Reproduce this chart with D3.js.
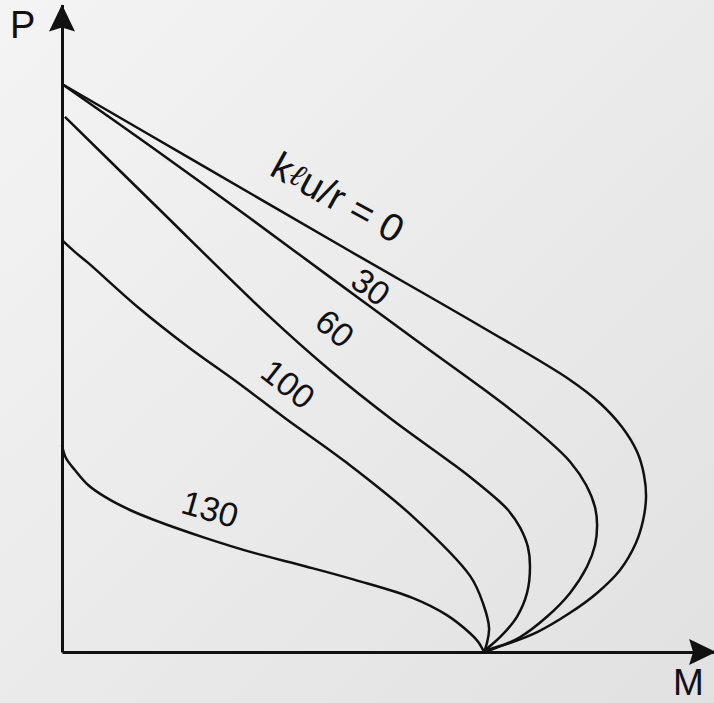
<!DOCTYPE html>
<html>
<head>
<meta charset="utf-8">
<script src="https://cdn.jsdelivr.net/npm/d3@7"></script>
<style>
  html, body { margin: 0; padding: 0; }
  body { width: 714px; height: 703px; overflow: hidden; }
</style>
</head>
<body>
<div id="chart"></div>
<script>
// curve labels (kl u / r)
const series = ["0", "30", "60", "100", "130"];

// values, M and P in arbitrary units (meeting point M = 100)
const m0 = [0, 32.7, 68.2, 99.1, 120.4, 127.5, 132.7, 136.3, 137.9, 138.4, 137.7, 136.0, 132.2, 126.8, 120.4, 112.6, 106.2, 101.4, 100];
const p0 = [100, 85.9, 70.6, 57.4, 47.9, 43.8, 39.6, 35.2, 31.2, 27.3, 23.2, 19.2, 14.4, 10.4, 6.9, 3.5, 1.6, 0.5, 0];

const m30 = [0, 20.9, 44.5, 63.5, 84.8, 99.1, 107.3, 114.5, 120.4, 124.2, 126.3, 126.8, 126.3, 124.4, 120.4, 114.9, 108.5, 102.1, 100];
const p30 = [100, 89.1, 76.4, 66.0, 54.4, 46.7, 42.1, 37.7, 33.5, 29.4, 25.5, 22.4, 18.8, 15.0, 10.4, 6.2, 2.6, 0.5, 0];

const m60 = [0.7, 22.0, 48.8, 63.5, 78.4, 91.9, 96.7, 103.8, 105.7, 108.5, 110.4, 110.9, 110.2, 107.8, 103.8, 100.9, 100];
const p60 = [94.2, 78.7, 59.3, 49.6, 40.8, 33.5, 30.8, 26.4, 25.0, 22.0, 18.5, 15.0, 10.4, 6.2, 2.6, 0.7, 0];

const m100 = [0, 3.1, 6.2, 18.0, 29.9, 41.7, 52.8, 67.5, 83.2, 96.7, 99.8, 101.2, 100.7, 100];
const p100 = [72.5, 70.4, 68.5, 60.7, 53.7, 47.4, 41.2, 33.3, 23.8, 13.4, 8.5, 4.2, 1.6, 0];

const m130 = [0, 0.9, 3.1, 6.2, 10.2, 16.1, 22.0, 33.9, 45.7, 57.6, 69.4, 83.2, 91.2, 96.7, 98.6, 100];
const p130 = [36.4, 34.2, 32.0, 29.4, 27.3, 25.0, 23.2, 20.1, 17.4, 15.1, 12.7, 9.5, 6.5, 3.3, 1.8, 0];

const mValues = [m0, m30, m60, m100, m130];
const pValues = [p0, p30, p60, p100, p130];

// where each curve label sits (M, P) and its angle
const labelM = [65.4, 73.2, 64.7, 53.6, 35.1];
const labelP = [80.1, 64.3, 57.0, 47.2, 25.2];
const labelAngle = [29, 36, 40, 38, 16];

const W = 714, H = 703;

const svg = d3.select("#chart").append("svg")
    .attr("width", W)
    .attr("height", H);

// background
const defs = svg.append("defs");
const grad = defs.append("linearGradient")
    .attr("id", "bg")
    .attr("x1", 0).attr("y1", 0).attr("x2", 1).attr("y2", 1);
grad.append("stop").attr("offset", 0).attr("stop-color", "#f4f4f4");
grad.append("stop").attr("offset", 1).attr("stop-color", "#e1e1e1");
svg.append("rect").attr("width", W).attr("height", H).attr("fill", "url(#bg)");

// scales (axes run past the curves up to the arrow tips)
let x = d3.scaleLinear().domain([0, 155]).range([62, 62 + 155 * 4.22]);
let y = d3.scaleLinear().domain([0, 114]).range([652, 652 - 114 * 5.68]);

// axes, no ticks
svg.append("g")
    .attr("transform", `translate(0,${y(0)})`)
    .call(d3.axisBottom(x).tickValues([]).tickSizeOuter(0));
svg.append("g")
    .attr("transform", `translate(${x(0)},0)`)
    .call(d3.axisLeft(y).tickValues([]).tickSizeOuter(0));
svg.selectAll(".domain").attr("stroke", "#111").attr("stroke-width", 3);

// arrow heads
const arrow = "M0,0 L-27,-13 L-23,0 L-27,13 Z";
svg.append("path")
    .attr("d", arrow)
    .attr("fill", "#111")
    .attr("transform", `translate(${x(155)},${y(0)})`);
svg.append("path")
    .attr("d", arrow)
    .attr("fill", "#111")
    .attr("transform", `translate(${x(0)},${y(114)}) rotate(-90)`);

// curves
const line = d3.line()
    .x(d => x(d[0]))
    .y(d => y(d[1]))
    .curve(d3.curveCatmullRom.alpha(0.5));

series.forEach((s, i) => {
    const pts = mValues[i].map((m, j) => [m, pValues[i][j]]);
    svg.append("path")
        .datum(pts)
        .attr("d", line)
        .attr("fill", "none")
        .attr("stroke", "#111")
        .attr("stroke-width", 2.5)
        .attr("stroke-linejoin", "round");
});

// curve labels
const font = "'Liberation Sans', Arial, Helvetica, sans-serif";
series.forEach((s, i) => {
    const t = svg.append("text")
        .attr("transform", `translate(${x(labelM[i])},${y(labelP[i])}) rotate(${labelAngle[i]})`)
        .attr("text-anchor", "middle")
        .attr("dominant-baseline", "central")
        .attr("font-family", font)
        .attr("font-size", i === 0 ? 39 : 34)
        .attr("fill", "#111");
    if (i === 0) {
        t.append("tspan").text("k");
        t.append("tspan").attr("font-family", "'DejaVu Serif', serif").attr("font-style", "italic")
            .attr("font-size", 32).text("\u2113");
        t.append("tspan").text("u/r = " + s);
    } else {
        t.text(s);
    }
});

// axis titles
svg.append("text")
    .attr("x", 10).attr("y", 38)
    .attr("font-family", font).attr("font-size", 38).attr("fill", "#111")
    .text("P");
svg.append("text")
    .attr("x", 673).attr("y", 695)
    .attr("font-family", font).attr("font-size", 37).attr("fill", "#111")
    .text("M");
</script>
</body>
</html>
